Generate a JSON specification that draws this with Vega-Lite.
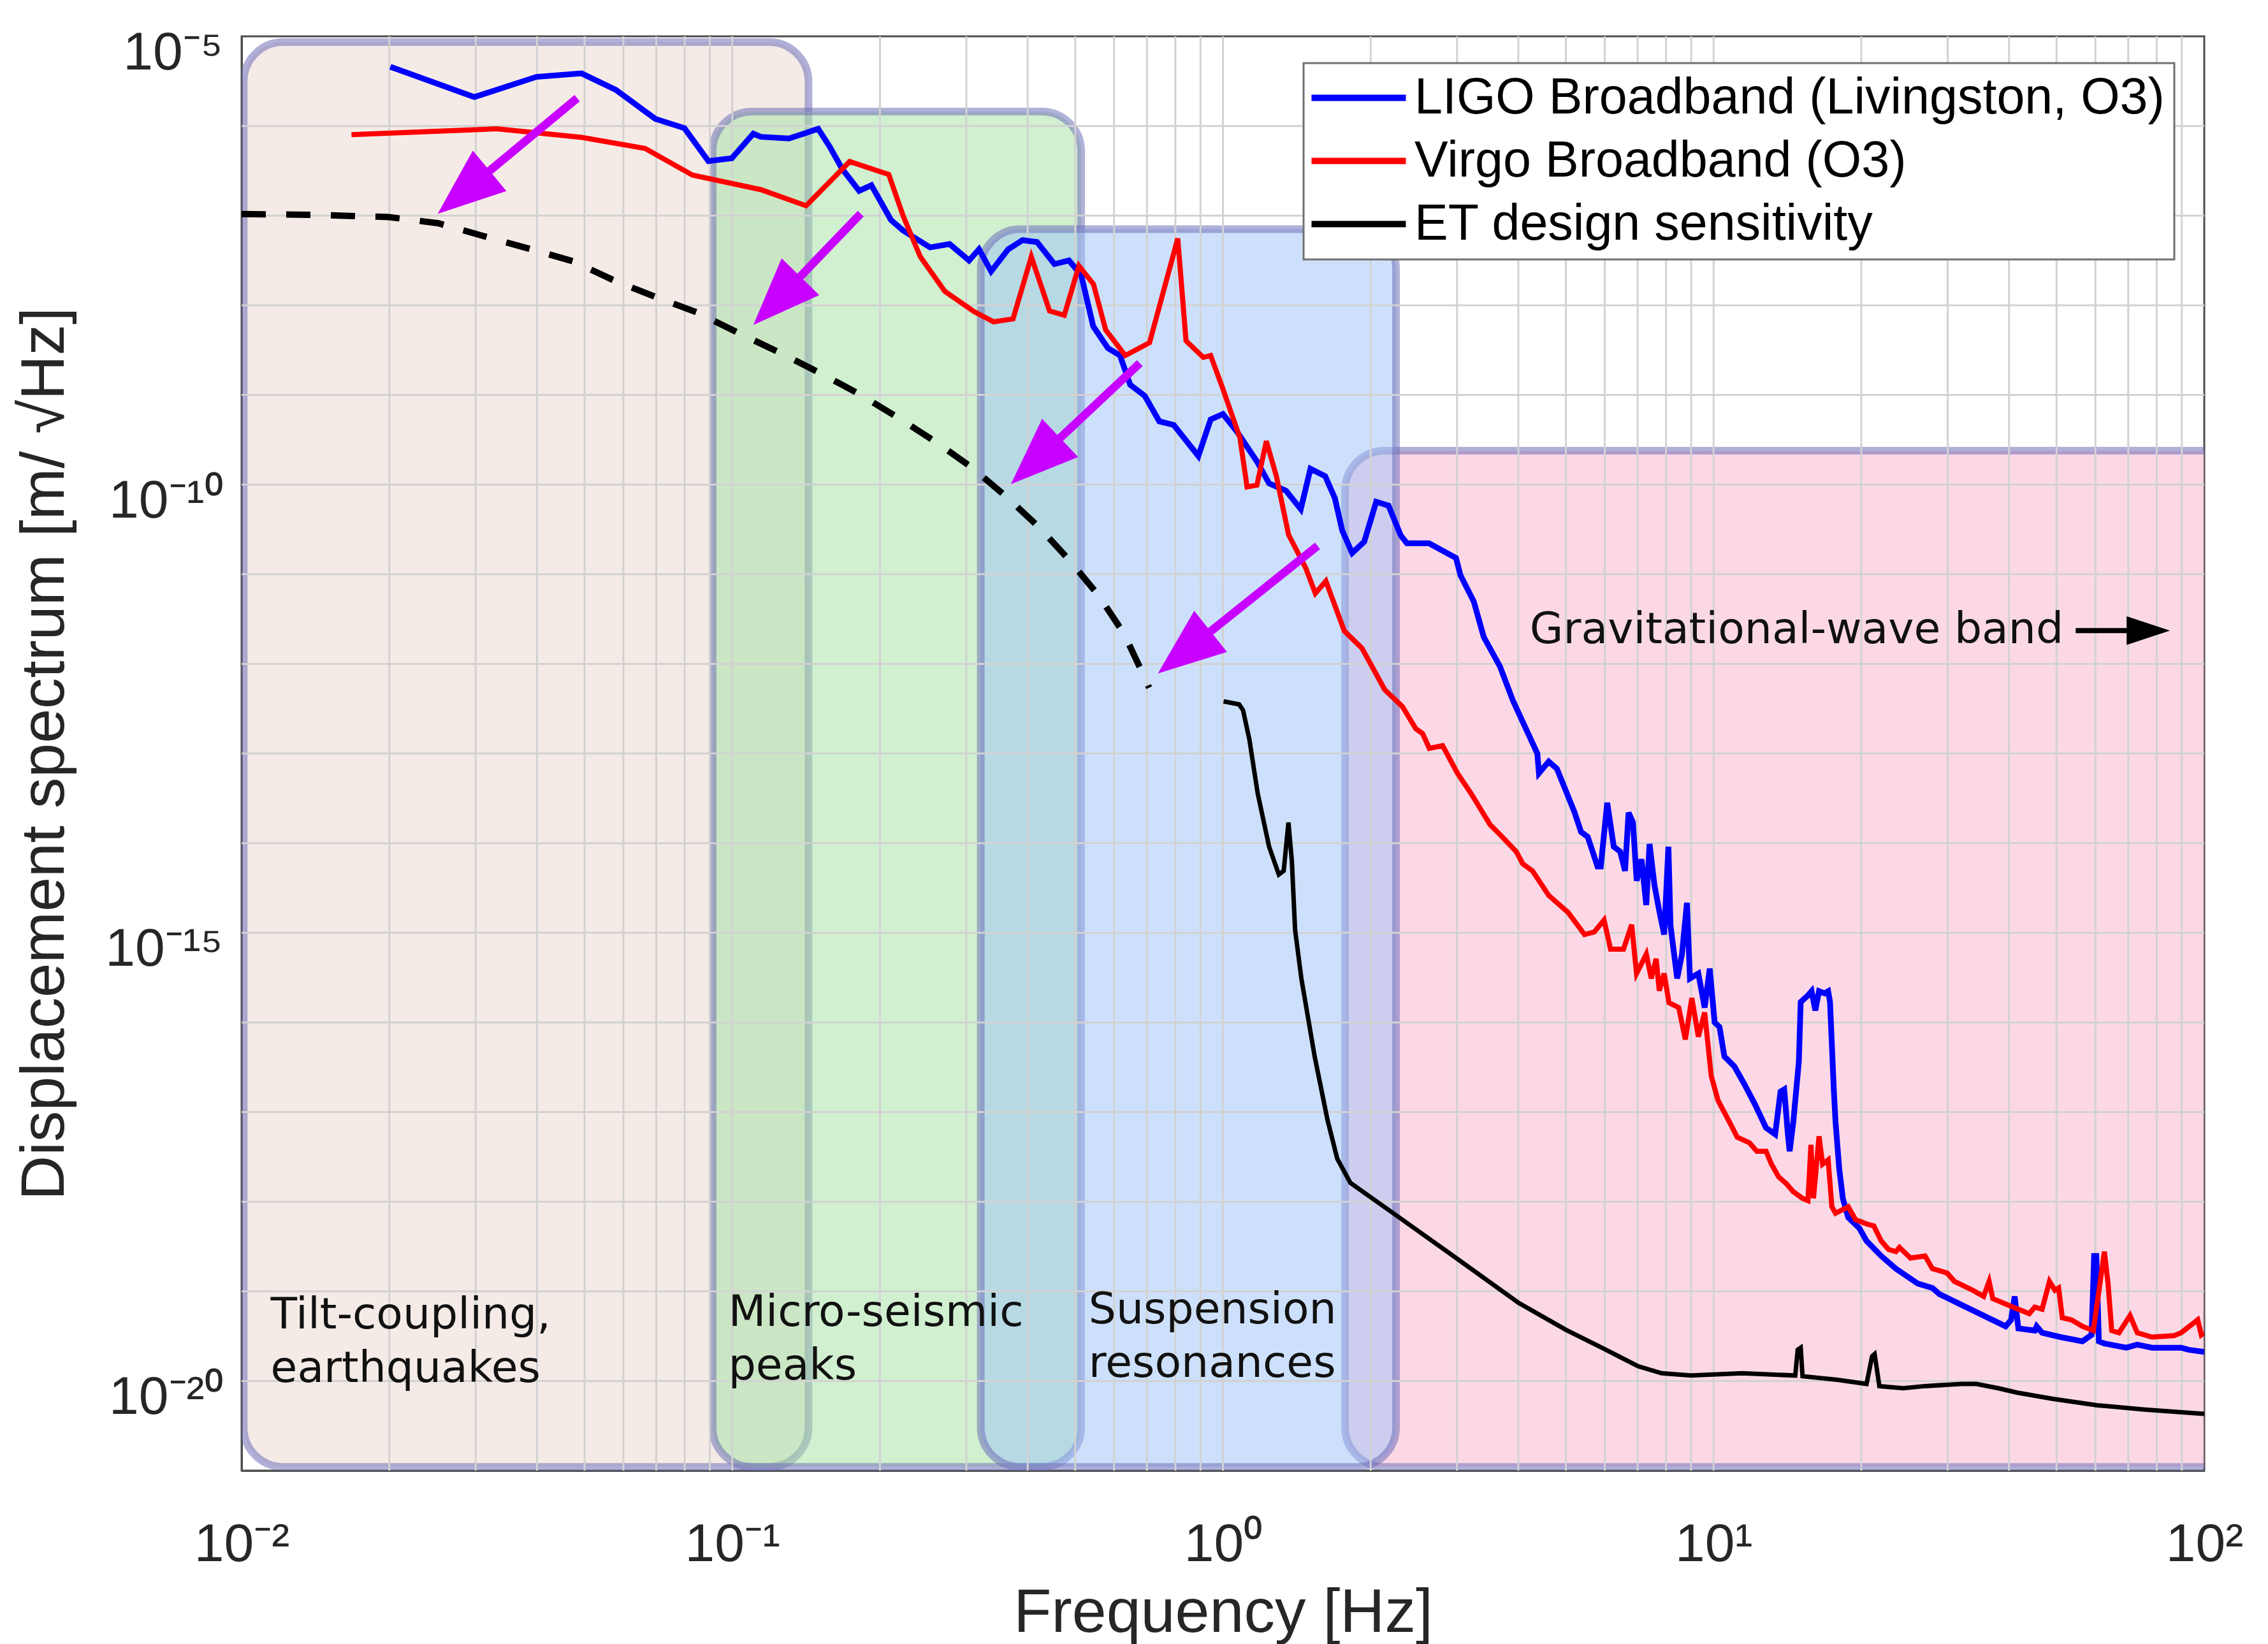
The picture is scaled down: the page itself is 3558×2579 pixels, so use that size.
{
"$schema":"https://vega.github.io/schema/vega-lite/v6.json",
"width":3079,"height":2250,
"autosize":{"type":"none"},
"padding":{"left":379,"top":57,"right":100,"bottom":272},
"background":"#ffffff",
"datasets":{
"regions":[
{"name":"tilt","f1":0.0101,"f2":0.143,"a1":1.1e-21,"a2":8.63e-6},
{"name":"micro","f1":0.0912,"f2":0.514,"a1":1.1e-21,"a2":1.45e-6},
{"name":"gw","f1":1.774,"f2":200,"a1":1.1e-21,"a2":2.39e-10},
{"name":"susp","f1":0.321,"f2":2.253,"a1":1.1e-21,"a2":7.06e-8}
],
"xgrid":[{"g":0.02},{"g":0.03},{"g":0.04},{"g":0.05},{"g":0.06},{"g":0.07},{"g":0.08},{"g":0.09},{"g":0.1},{"g":0.2},{"g":0.3},{"g":0.4},{"g":0.5},{"g":0.6},{"g":0.7},{"g":0.8},{"g":0.9},{"g":1},{"g":2},{"g":3},{"g":4},{"g":5},{"g":6},{"g":7},{"g":8},{"g":9},{"g":10},{"g":20},{"g":30},{"g":40},{"g":50},{"g":60},{"g":70},{"g":80},{"g":90}],
"ygrid":[{"g":1e-20},{"g":1e-19},{"g":1e-18},{"g":1e-17},{"g":1e-16},{"g":1e-15},{"g":1e-14},{"g":1e-13},{"g":1e-12},{"g":1e-11},{"g":1e-10},{"g":1e-9},{"g":1e-8},{"g":1e-7},{"g":1e-6}],
"notes":[
{"f":0.01146,"asd":3.85e-20,"label":"Tilt-coupling,\nearthquakes"},
{"f":0.0982,"asd":4.11e-20,"label":"Micro-seismic\npeaks"},
{"f":0.5324,"asd":4.39e-20,"label":"Suspension\nresonances"},
{"f":4.22,"asd":1.70e-12,"label":"Gravitational-wave band"}
],
"arrows":[
{"kind":"m","f":0.0483,"asd":2.04e-6,"f2":0.02835,"asd2":1.82e-7,"dir":230.4},
{"kind":"m","f":0.1827,"asd":1.05e-7,"f2":0.1233,"asd2":1.12e-8,"dir":224.3},
{"kind":"m","f":0.677,"asd":2.26e-9,"f2":0.415,"asd2":1.83e-10,"dir":226.8},
{"kind":"m","f":1.559,"asd":2.07e-11,"f2":0.834,"asd2":1.34e-12,"dir":231.4},
{"kind":"k","f":54.7,"asd":2.35e-12,"f2":76.9,"asd2":2.35e-12,"dir":90}
],
"etdash":[
{"f":0.01,"asd":1.04e-7},{"f":0.01413,"asd":1.02e-7},{"f":0.01993,"asd":9.64e-8},{"f":0.02517,"asd":8.22e-8},{"f":0.0331,"asd":5.38e-8},{"f":0.0398,"asd":4.07e-8},{"f":0.04751,"asd":3.08e-8},{"f":0.05745,"asd":1.89e-8},{"f":0.07015,"asd":1.225e-8},{"f":0.08484,"asd":8.3e-9},{"f":0.1036,"asd":4.83e-9},{"f":0.1242,"asd":3.01e-9},{"f":0.1502,"asd":1.78e-9},{"f":0.1816,"asd":1.02e-9},{"f":0.2178,"asd":5.57e-10},{"f":0.261,"asd":2.94e-10},{"f":0.3073,"asd":1.56e-10},{"f":0.3616,"asd":7.35e-11},{"f":0.422,"asd":3.34e-11},{"f":0.4878,"asd":1.41e-11},{"f":0.5587,"asd":5.74e-12},{"f":0.6286,"asd":2.17e-12},{"f":0.688,"asd":7.59e-13},{"f":0.7072,"asd":5.41e-13}
],
"et":[
{"f":1.003,"asd":3.81e-13},{"f":1.079,"asd":3.53e-13},{"f":1.099,"asd":3.04e-13},{"f":1.132,"asd":1.44e-13},{"f":1.177,"asd":3.61e-14},{"f":1.242,"asd":9.12e-15},{"f":1.30,"asd":4.47e-15},{"f":1.33,"asd":4.9e-15},{"f":1.36,"asd":1.7e-14},{"f":1.382,"asd":6.31e-15},{"f":1.403,"asd":1.08e-15},{"f":1.445,"asd":3.09e-16},{"f":1.538,"asd":4.17e-17},{"f":1.634,"asd":8.13e-18},{"f":1.71,"asd":3.02e-18},{"f":1.819,"asd":1.62e-18},{"f":2.286,"asd":6.68e-19},{"f":3.008,"asd":2.29e-19},{"f":4.009,"asd":7.41e-20},{"f":5.0,"asd":3.72e-20},{"f":6.005,"asd":2.26e-20},{"f":7.02,"asd":1.46e-20},{"f":7.84,"asd":1.22e-20},{"f":8.99,"asd":1.15e-20},{"f":11.43,"asd":1.22e-20},{"f":14.67,"asd":1.15e-20},{"f":14.84,"asd":2.23e-20},{"f":15.05,"asd":2.35e-20},{"f":15.18,"asd":1.13e-20},{"f":17.86,"asd":1.03e-20},{"f":20.5,"asd":9.27e-21},{"f":21.04,"asd":1.89e-20},{"f":21.29,"asd":2.0e-20},{"f":21.77,"asd":8.77e-21},{"f":24.34,"asd":8.3e-21},{"f":26.98,"asd":8.77e-21},{"f":32.03,"asd":9.27e-21},{"f":34.31,"asd":9.27e-21},{"f":38.04,"asd":8.3e-21},{"f":41.45,"asd":7.43e-21},{"f":49.2,"asd":6.31e-21},{"f":60.45,"asd":5.36e-21},{"f":75.58,"asd":4.8e-21},{"f":100,"asd":4.3e-21}
],
"ligo":[
{"f":0.0201,"asd":4.58e-6},{"f":0.0298,"asd":2.10e-6},{"f":0.0399,"asd":3.53e-6},{"f":0.0493,"asd":3.86e-6},{"f":0.0579,"asd":2.53e-6},{"f":0.0697,"asd":1.2e-6},{"f":0.0799,"asd":9.46e-7},{"f":0.0894,"asd":4.06e-7},{"f":0.0998,"asd":4.37e-7},{"f":0.1104,"asd":8.22e-7},{"f":0.1143,"asd":7.57e-7},{"f":0.1305,"asd":7.26e-7},{"f":0.1497,"asd":9.29e-7},{"f":0.1581,"asd":5.83e-7},{"f":0.1675,"asd":3.32e-7},{"f":0.1814,"asd":1.89e-7},{"f":0.1921,"asd":2.18e-7},{"f":0.2106,"asd":8.95e-8},{"f":0.2232,"asd":6.78e-8},{"f":0.253,"asd":4.42e-8},{"f":0.2773,"asd":4.83e-8},{"f":0.3039,"asd":3.16e-8},{"f":0.3183,"asd":4.21e-8},{"f":0.337,"asd":2.39e-8},{"f":0.365,"asd":4.21e-8},{"f":0.3906,"asd":5.32e-8},{"f":0.418,"asd":5.07e-8},{"f":0.4536,"asd":2.88e-8},{"f":0.4855,"asd":3.16e-8},{"f":0.5142,"asd":2.18e-8},{"f":0.544,"asd":5.83e-9},{"f":0.583,"asd":3.32e-9},{"f":0.617,"asd":2.75e-9},{"f":0.647,"asd":1.3e-9},{"f":0.693,"asd":9.77e-10},{"f":0.742,"asd":5.07e-10},{"f":0.794,"asd":4.62e-10},{"f":0.891,"asd":2.08e-10},{"f":0.944,"asd":5.32e-10},{"f":1.0,"asd":6.12e-10},{"f":1.07,"asd":3.84e-10},{"f":1.173,"asd":1.81e-10},{"f":1.242,"asd":1.03e-10},{"f":1.345,"asd":8.53e-11},{"f":1.441,"asd":5.32e-11},{"f":1.508,"asd":1.5e-10},{"f":1.616,"asd":1.24e-10},{"f":1.691,"asd":7.05e-11},{"f":1.751,"asd":3.05e-11},{"f":1.834,"asd":1.72e-11},{"f":1.941,"asd":2.3e-11},{"f":2.053,"asd":6.43e-11},{"f":2.175,"asd":5.83e-11},{"f":2.303,"asd":2.72e-11},{"f":2.371,"asd":2.21e-11},{"f":2.63,"asd":2.21e-11},{"f":2.985,"asd":1.52e-11},{"f":3.048,"asd":9.77e-12},{"f":3.246,"asd":4.94e-12},{"f":3.4,"asd":2.0e-12},{"f":3.67,"asd":9.33e-13},{"f":3.9,"asd":3.89e-13},{"f":4.15,"asd":1.86e-13},{"f":4.373,"asd":1.0e-13},{"f":4.406,"asd":6.03e-14},{"f":4.613,"asd":8.13e-14},{"f":4.793,"asd":6.76e-14},{"f":4.977,"asd":4.07e-14},{"f":5.21,"asd":2.19e-14},{"f":5.37,"asd":1.33e-14},{"f":5.54,"asd":1.175e-14},{"f":5.8,"asd":5.5e-15},{"f":5.89,"asd":5.5e-15},{"f":6.07,"asd":2.82e-14},{"f":6.26,"asd":9.12e-15},{"f":6.45,"asd":8.04e-15},{"f":6.6,"asd":4.9e-15},{"f":6.71,"asd":2.19e-14},{"f":6.85,"asd":1.7e-14},{"f":6.97,"asd":3.8e-15},{"f":7.13,"asd":6.61e-15},{"f":7.29,"asd":2.04e-15},{"f":7.405,"asd":9.77e-15},{"f":7.58,"asd":3.35e-15},{"f":7.745,"asd":1.78e-15},{"f":7.93,"asd":9.55e-16},{"f":8.09,"asd":9.12e-15},{"f":8.17,"asd":1.2e-15},{"f":8.43,"asd":3.09e-16},{"f":8.62,"asd":5.75e-16},{"f":8.825,"asd":2.16e-15},{"f":8.95,"asd":3.09e-16},{"f":9.31,"asd":3.51e-16},{"f":9.59,"asd":1.46e-16},{"f":9.82,"asd":3.98e-16},{"f":10.05,"asd":1.0e-16},{"f":10.28,"asd":8.91e-17},{"f":10.52,"asd":4.17e-17},{"f":11.02,"asd":3.24e-17},{"f":11.53,"asd":2.09e-17},{"f":12.14,"asd":1.22e-17},{"f":12.79,"asd":6.67e-18},{"f":13.35,"asd":5.65e-18},{"f":13.69,"asd":1.69e-17},{"f":13.93,"asd":1.79e-17},{"f":14.17,"asd":5.65e-18},{"f":14.29,"asd":3.65e-18},{"f":14.54,"asd":7.85e-18},{"f":14.92,"asd":3.65e-17},{"f":15.05,"asd":1.69e-16},{"f":15.57,"asd":2.0e-16},{"f":15.84,"asd":2.23e-16},{"f":16.12,"asd":1.36e-16},{"f":16.4,"asd":2.23e-16},{"f":16.83,"asd":2.11e-16},{"f":17.12,"asd":2.23e-16},{"f":17.27,"asd":1.69e-16},{"f":17.42,"asd":5.65e-17},{"f":17.57,"asd":1.89e-17},{"f":17.72,"asd":7.85e-18},{"f":18.03,"asd":2.35e-18},{"f":18.34,"asd":1.09e-18},{"f":18.81,"asd":6.67e-19},{"f":19.81,"asd":5.07e-19},{"f":20.5,"asd":3.65e-19},{"f":21.96,"asd":2.48e-19},{"f":23.52,"asd":1.79e-19},{"f":26.08,"asd":1.22e-19},{"f":27.92,"asd":1.09e-19},{"f":28.89,"asd":9.27e-20},{"f":32.03,"asd":7.05e-20},{"f":35.51,"asd":5.36e-20},{"f":39.37,"asd":4.07e-20},{"f":40.39,"asd":4.8e-20},{"f":41.08,"asd":8.77e-20},{"f":41.8,"asd":3.85e-20},{"f":45.14,"asd":3.65e-20},{"f":45.54,"asd":4.07e-20},{"f":46.72,"asd":3.45e-20},{"f":50.92,"asd":3.09e-20},{"f":56.46,"asd":2.77e-20},{"f":58.93,"asd":3.27e-20},{"f":59.64,"asd":2.48e-19},{"f":60.26,"asd":2.48e-19},{"f":60.99,"asd":2.77e-20},{"f":62.58,"asd":2.62e-20},{"f":69.38,"asd":2.35e-20},{"f":73.03,"asd":2.54e-20},{"f":78.24,"asd":2.35e-20},{"f":89.74,"asd":2.35e-20},{"f":92.88,"asd":2.23e-20},{"f":100,"asd":2.11e-20}
],
"virgo":[
{"f":0.01675,"asd":8.0e-7},{"f":0.0331,"asd":9.29e-7},{"f":0.0493,"asd":7.46e-7},{"f":0.0664,"asd":5.62e-7},{"f":0.083,"asd":2.83e-7},{"f":0.1143,"asd":1.95e-7},{"f":0.1414,"asd":1.29e-7},{"f":0.1735,"asd":4.01e-7},{"f":0.2084,"asd":2.88e-7},{"f":0.2232,"asd":9.77e-8},{"f":0.2417,"asd":3.48e-8},{"f":0.2712,"asd":1.43e-8},{"f":0.311,"asd":8.49e-9},{"f":0.3408,"asd":6.53e-9},{"f":0.3735,"asd":7.05e-9},{"f":0.4069,"asd":3.48e-8},{"f":0.4433,"asd":8.65e-9},{"f":0.475,"asd":7.74e-9},{"f":0.5087,"asd":2.75e-8},{"f":0.5447,"asd":1.72e-8},{"f":0.5768,"asd":5.32e-9},{"f":0.6324,"asd":2.75e-9},{"f":0.7087,"asd":3.82e-9},{"f":0.809,"asd":5.56e-8},{"f":0.841,"asd":4.01e-9},{"f":0.912,"asd":2.62e-9},{"f":0.944,"asd":2.75e-9},{"f":0.9986,"asd":1.19e-9},{"f":1.083,"asd":3.33e-10},{"f":1.12,"asd":9.4e-11},{"f":1.173,"asd":9.86e-11},{"f":1.226,"asd":3.05e-10},{"f":1.285,"asd":1.24e-10},{"f":1.361,"asd":2.75e-11},{"f":1.474,"asd":1.18e-11},{"f":1.543,"asd":6.12e-12},{"f":1.621,"asd":8.37e-12},{"f":1.768,"asd":2.32e-12},{"f":1.921,"asd":1.49e-12},{"f":2.136,"asd":5.16e-13},{"f":2.322,"asd":3.33e-13},{"f":2.472,"asd":1.89e-13},{"f":2.552,"asd":1.67e-13},{"f":2.634,"asd":1.14e-13},{"f":2.804,"asd":1.22e-13},{"f":3.008,"asd":5.97e-14},{"f":3.199,"asd":3.63e-14},{"f":3.505,"asd":1.6e-14},{"f":3.668,"asd":1.25e-14},{"f":3.961,"asd":8.04e-15},{"f":4.083,"asd":5.89e-15},{"f":4.276,"asd":4.9e-15},{"f":4.613,"asd":2.61e-15},{"f":5.054,"asd":1.68e-15},{"f":5.457,"asd":9.55e-16},{"f":5.713,"asd":1.02e-15},{"f":5.981,"asd":1.39e-15},{"f":6.166,"asd":6.56e-16},{"f":6.553,"asd":6.56e-16},{"f":6.808,"asd":1.23e-15},{"f":6.966,"asd":3.51e-16},{"f":7.292,"asd":5.79e-16},{"f":7.464,"asd":3.09e-16},{"f":7.638,"asd":5.13e-16},{"f":7.75,"asd":2.26e-16},{"f":7.93,"asd":3.51e-16},{"f":8.11,"asd":1.66e-16},{"f":8.49,"asd":1.46e-16},{"f":8.76,"asd":6.46e-17},{"f":9.03,"asd":1.87e-16},{"f":9.31,"asd":6.92e-17},{"f":9.59,"asd":1.29e-16},{"f":9.89,"asd":2.53e-17},{"f":10.21,"asd":1.35e-17},{"f":10.84,"asd":7.24e-18},{"f":11.17,"asd":5.25e-18},{"f":11.83,"asd":4.54e-18},{"f":12.25,"asd":3.65e-18},{"f":12.79,"asd":3.65e-18},{"f":13.12,"asd":2.62e-18},{"f":13.57,"asd":1.89e-18},{"f":14.05,"asd":1.6e-18},{"f":14.54,"asd":1.29e-18},{"f":15.18,"asd":1.09e-18},{"f":15.57,"asd":1.03e-18},{"f":15.79,"asd":4.3e-18},{"f":15.98,"asd":1.09e-18},{"f":16.4,"asd":5.36e-18},{"f":16.68,"asd":2.62e-18},{"f":17.12,"asd":2.93e-18},{"f":17.42,"asd":8.77e-19},{"f":17.72,"asd":7.43e-19},{"f":18.81,"asd":8.77e-19},{"f":19.47,"asd":6.31e-19},{"f":20.5,"asd":5.65e-19},{"f":21.21,"asd":5.36e-19},{"f":21.96,"asd":3.65e-19},{"f":22.73,"asd":2.93e-19},{"f":23.52,"asd":2.77e-19},{"f":23.92,"asd":3.09e-19},{"f":25.19,"asd":2.35e-19},{"f":26.98,"asd":2.48e-19},{"f":27.92,"asd":1.79e-19},{"f":29.92,"asd":1.6e-19},{"f":30.96,"asd":1.29e-19},{"f":33.73,"asd":1.03e-19},{"f":35.51,"asd":8.77e-20},{"f":36.43,"asd":1.29e-19},{"f":37.07,"asd":8.3e-20},{"f":40.74,"asd":6.67e-20},{"f":44.01,"asd":5.65e-20},{"f":45.14,"asd":6.67e-20},{"f":46.72,"asd":6.31e-20},{"f":48.37,"asd":1.29e-19},{"f":49.62,"asd":1.03e-19},{"f":50.49,"asd":1.09e-19},{"f":51.37,"asd":5.07e-20},{"f":53.62,"asd":4.8e-20},{"f":56.46,"asd":4.07e-20},{"f":59.43,"asd":3.65e-20},{"f":62.58,"asd":2.77e-19},{"f":63.67,"asd":1.22e-19},{"f":64.77,"asd":3.65e-20},{"f":67.03,"asd":3.45e-20},{"f":70.58,"asd":5.36e-20},{"f":73.03,"asd":3.45e-20},{"f":78.24,"asd":3.09e-20},{"f":86.75,"asd":3.2e-20},{"f":89.74,"asd":3.45e-20},{"f":96.96,"asd":4.8e-20},{"f":98.63,"asd":3.27e-20},{"f":100,"asd":3.45e-20}
]
},
"layer":[
{"data":{"name":"regions"},
 "mark":{"type":"rect","cornerRadius":62,"fillOpacity":0.5,"stroke":"#7070b8","strokeOpacity":0.55,"strokeWidth":12,"clip":true},
 "encoding":{
  "x":{"field":"f1","type":"quantitative","scale":{"type":"log","domain":[0.01,100],"nice":false},
       "axis":{"values":[0.01,0.1,1,10,100],"labelExpr":"'10' + replace(replace(replace(replace(replace('' + round(log(datum.value) / LN10), '-', '⁻'), '0', '⁰'), '1', '¹'), '2', '²'), '5', '⁵')","title":"Frequency [Hz]","labelPadding":75,"titlePadding":17,"labelOverlap":false,"labelFlush":false,"labelLimit":0}},
  "x2":{"field":"f2"},
  "y":{"field":"a1","type":"quantitative","scale":{"type":"log","domain":[1e-21,1e-5],"nice":false},
       "axis":{"values":[1e-20,1e-15,1e-10,1e-5],"labelExpr":"'10' + replace(replace(replace(replace(replace('' + round(log(datum.value) / LN10), '-', '⁻'), '0', '⁰'), '1', '¹'), '2', '²'), '5', '⁵')","title":"Displacement spectrum [m/ √Hz]","labelPadding":30,"labelOffset":26,"titlePadding":60,"labelOverlap":false,"labelFlush":false,"labelLimit":0}},
  "y2":{"field":"a2"},
  "fill":{"field":"name","type":"nominal","scale":{"domain":["tilt","micro","gw","susp"],"range":["#ebd7cd","#a1e1a1","#f9b1cd","#9bc1f7"]},"legend":null}
 }},
{"data":{"name":"xgrid"},
 "mark":{"type":"rule","color":"#d2d2d2","strokeWidth":3},
 "encoding":{"x":{"field":"g","type":"quantitative","scale":{"type":"log","domain":[0.01,100],"nice":false}}}},
{"data":{"name":"ygrid"},
 "mark":{"type":"rule","color":"#d2d2d2","strokeWidth":3},
 "encoding":{"y":{"field":"g","type":"quantitative","scale":{"type":"log","domain":[1e-21,1e-5],"nice":false}}}},
{"data":{"name":"notes"},
 "mark":{"type":"text","align":"left","baseline":"alphabetic","font":"DejaVu Sans","fontSize":68,"lineBreak":"\n","lineHeight":84,"color":"#111111"},
 "encoding":{
  "x":{"field":"f","type":"quantitative","scale":{"type":"log","domain":[0.01,100],"nice":false}},
  "y":{"field":"asd","type":"quantitative","scale":{"type":"log","domain":[1e-21,1e-5],"nice":false}},
  "text":{"field":"label","type":"nominal"}
 }},
{"data":{"name":"etdash"},
 "mark":{"type":"line","color":"#000000","strokeWidth":10,"strokeDash":[38,32],"clip":true},
 "encoding":{
  "x":{"field":"f","type":"quantitative","scale":{"type":"log","domain":[0.01,100],"nice":false}},
  "y":{"field":"asd","type":"quantitative","scale":{"type":"log","domain":[1e-21,1e-5],"nice":false}}
 }},
{"data":{"name":"ligo"},
 "mark":{"type":"line","strokeWidth":9,"clip":true},
 "encoding":{
  "x":{"field":"f","type":"quantitative","scale":{"type":"log","domain":[0.01,100],"nice":false}},
  "y":{"field":"asd","type":"quantitative","scale":{"type":"log","domain":[1e-21,1e-5],"nice":false}},
  "color":{"datum":"LIGO Broadband (Livingston, O3)","type":"nominal",
    "scale":{"domain":["LIGO Broadband (Livingston, O3)","Virgo Broadband (O3)","ET design sensitivity"],"range":["#0000ff","#ff0000","#000000"]},
    "legend":{"orient":"none","legendX":1666,"legendY":42,"title":null,"symbolType":"M-1.68,0L4.24,0","symbolSize":2500,"symbolStrokeWidth":10,"symbolFillColor":"transparent","labelFont":"Liberation Sans","labelFontSize":79,"labelColor":"#000000","labelOffset":80,"rowPadding":19,"padding":15,"strokeColor":"#707070","fillColor":"#ffffff","labelLimit":0}}
 }},
{"data":{"name":"virgo"},
 "mark":{"type":"line","strokeWidth":8,"clip":true},
 "encoding":{
  "x":{"field":"f","type":"quantitative","scale":{"type":"log","domain":[0.01,100],"nice":false}},
  "y":{"field":"asd","type":"quantitative","scale":{"type":"log","domain":[1e-21,1e-5],"nice":false}},
  "color":{"datum":"Virgo Broadband (O3)","type":"nominal"}
 }},
{"data":{"name":"et"},
 "mark":{"type":"line","strokeWidth":7,"clip":true},
 "encoding":{
  "x":{"field":"f","type":"quantitative","scale":{"type":"log","domain":[0.01,100],"nice":false}},
  "y":{"field":"asd","type":"quantitative","scale":{"type":"log","domain":[1e-21,1e-5],"nice":false}},
  "color":{"datum":"ET design sensitivity","type":"nominal"}
 }},
{"data":{"name":"arrows"},
 "transform":[{"filter":"datum.kind == 'm'"}],
 "mark":{"type":"rule","color":"#c800ff","strokeWidth":13,"strokeCap":"butt"},
 "encoding":{
  "x":{"field":"f","type":"quantitative","scale":{"type":"log","domain":[0.01,100],"nice":false}},
  "y":{"field":"asd","type":"quantitative","scale":{"type":"log","domain":[1e-21,1e-5],"nice":false}},
  "x2":{"field":"f2"},"y2":{"field":"asd2"}
 }},
{"data":{"name":"arrows"},
 "transform":[{"filter":"datum.kind == 'm'"}],
 "mark":{"type":"point","shape":"M-0.78,1L0,-1L0.78,1Z","size":11200,"filled":true,"color":"#c800ff","opacity":1,"strokeWidth":0},
 "encoding":{
  "x":{"field":"f2","type":"quantitative","scale":{"type":"log","domain":[0.01,100],"nice":false}},
  "y":{"field":"asd2","type":"quantitative","scale":{"type":"log","domain":[1e-21,1e-5],"nice":false}},
  "angle":{"field":"dir","type":"quantitative","scale":null}
 }},
{"data":{"name":"arrows"},
 "transform":[{"filter":"datum.kind == 'k'"}],
 "mark":{"type":"rule","color":"#000000","strokeWidth":8,"strokeCap":"butt"},
 "encoding":{
  "x":{"field":"f","type":"quantitative","scale":{"type":"log","domain":[0.01,100],"nice":false}},
  "y":{"field":"asd","type":"quantitative","scale":{"type":"log","domain":[1e-21,1e-5],"nice":false}},
  "x2":{"field":"f2"},"y2":{"field":"asd2"}
 }},
{"data":{"name":"arrows"},
 "transform":[{"filter":"datum.kind == 'k'"}],
 "mark":{"type":"point","shape":"M-0.66,1L0,-1L0.66,1Z","size":4624,"filled":true,"color":"#000000","opacity":1,"strokeWidth":0},
 "encoding":{
  "x":{"field":"f2","type":"quantitative","scale":{"type":"log","domain":[0.01,100],"nice":false}},
  "y":{"field":"asd2","type":"quantitative","scale":{"type":"log","domain":[1e-21,1e-5],"nice":false}},
  "angle":{"field":"dir","type":"quantitative","scale":null}
 }}
],
"config":{
 "view":{"stroke":"#4d4d4d","strokeWidth":3},
 "axis":{"labelFont":"Liberation Sans","labelFontSize":84,"titleFont":"Liberation Sans","titleFontSize":97,"titleFontWeight":"normal","labelColor":"#262626","titleColor":"#262626","grid":false,"ticks":false,"tickSize":0,"domain":true,"domainColor":"#4d4d4d","domainWidth":3,"zindex":1},
 "legend":{"strokeWidth":3}
}
}
